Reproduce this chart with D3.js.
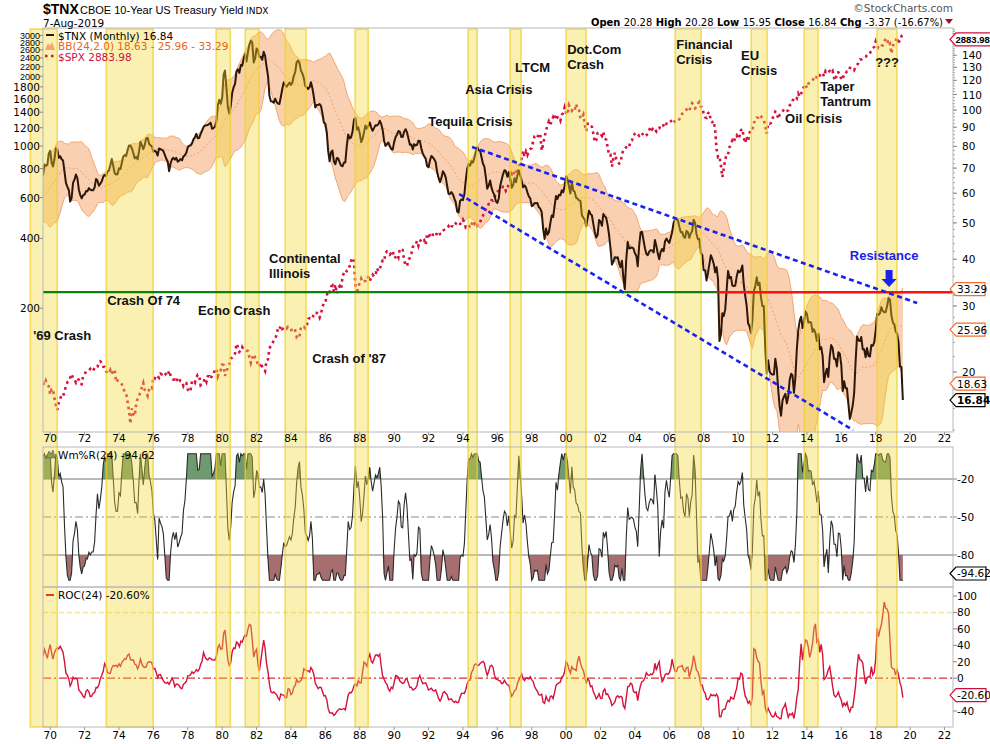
<!DOCTYPE html>
<html><head><meta charset="utf-8">
<script src="https://cdn.jsdelivr.net/npm/d3@7"></script>
<style>body{margin:0;background:#fff}svg{display:block}</style>
</head><body>
<svg id="c" width="990" height="744"></svg>
<script>
// ---------------- DATA ----------------
// Monthly 10-year Treasury yield (%), Jan 1967 .. Aug 2019 ($TNX = yield x 10)
const tnxYield = [
4.58,4.63,4.54,4.59,4.85,5.02,5.16,5.28,5.30,5.48,5.75,5.70, //1967
5.53,5.56,5.74,5.64,5.87,5.72,5.50,5.42,5.46,5.58,5.70,6.03, //1968
6.04,6.19,6.30,6.17,6.32,6.57,6.72,6.69,7.16,7.10,7.14,7.65, //1969
7.79,7.24,7.07,7.39,7.91,7.84,7.46,7.53,7.39,7.33,6.84,6.39, //1970
6.24,6.11,5.70,5.83,6.39,6.52,6.73,6.58,6.14,5.93,5.81,5.93, //1971
5.95,6.08,6.07,6.19,6.13,6.11,6.11,6.21,6.55,6.48,6.28,6.36, //1972
6.46,6.64,6.71,6.67,6.85,6.90,7.13,7.40,7.09,6.79,6.73,6.74, //1973
6.99,6.96,7.21,7.51,7.58,7.54,7.81,8.04,8.04,7.90,7.68,7.43, //1974
7.50,7.39,7.73,8.23,8.06,7.86,8.06,8.40,8.43,8.14,8.05,8.00, //1975
7.74,7.79,7.73,7.56,7.90,7.86,7.83,7.77,7.59,7.41,7.29,6.87, //1976
7.21,7.39,7.46,7.37,7.46,7.28,7.33,7.40,7.34,7.52,7.58,7.69, //1977
7.96,8.03,8.04,8.15,8.35,8.46,8.64,8.41,8.42,8.64,8.81,9.01, //1978
9.10,9.10,9.12,9.18,9.25,8.91,8.95,9.03,9.33,10.30,10.65,10.39, //1979
10.80,12.41,12.75,11.47,10.18,9.78,10.25,11.10,11.51,11.75,12.68,12.84, //1980
12.57,13.19,13.12,13.68,14.10,13.47,14.28,14.94,15.32,15.15,13.39,13.72, //1981
14.59,14.43,13.86,13.87,13.62,14.30,13.95,13.06,12.34,10.91,10.55,10.54, //1982
10.46,10.72,10.51,10.40,10.38,10.85,11.38,11.85,11.65,11.54,11.69,11.83, //1983
11.67,11.84,12.32,12.63,13.41,13.56,13.36,12.72,12.52,12.16,11.57,11.50, //1984
11.38,11.51,11.86,11.43,10.85,10.16,10.31,10.33,10.37,10.24,9.78,9.26, //1985
9.19,8.70,7.78,7.30,7.71,7.80,7.30,7.17,7.45,7.43,7.25,7.11, //1986
7.08,7.25,7.25,8.02,8.61,8.40,8.45,8.76,9.42,9.52,8.86,8.99, //1987
8.67,8.21,8.37,8.72,9.09,8.92,9.06,9.26,8.98,8.80,8.96,9.11, //1988
9.09,9.17,9.36,9.18,8.86,8.28,8.02,8.11,8.19,8.01,7.87,7.84, //1989
8.21,8.47,8.59,8.79,8.76,8.48,8.47,8.75,8.89,8.72,8.39,8.08, //1990
8.09,7.85,8.11,8.04,8.07,8.28,8.27,7.90,7.65,7.53,7.42,7.09, //1991
7.03,7.34,7.54,7.48,7.39,7.26,6.84,6.59,6.42,6.59,6.87,6.77, //1992
6.60,6.26,5.98,5.97,6.04,5.96,5.81,5.68,5.36,5.33,5.72,5.77, //1993
5.75,5.97,6.48,6.97,7.18,7.10,7.30,7.24,7.46,7.74,7.96,7.81, //1994
7.78,7.47,7.20,7.06,6.63,6.17,6.28,6.49,6.20,6.04,5.93,5.71, //1995
5.65,5.81,6.27,6.51,6.74,6.91,6.87,6.64,6.83,6.53,6.20,6.30, //1996
6.58,6.42,6.69,6.89,6.71,6.49,6.22,6.30,6.21,6.03,5.88,5.81, //1997
5.54,5.57,5.65,5.64,5.65,5.50,5.46,5.34,4.81,4.53,4.83,4.65, //1998
4.72,5.00,5.23,5.18,5.54,5.90,5.79,5.94,5.92,6.11,6.03,6.28, //1999
6.66,6.52,6.26,5.99,6.44,6.10,6.05,5.83,5.80,5.74,5.72,5.24, //2000
5.16,5.10,4.89,5.14,5.39,5.28,5.24,4.97,4.73,4.57,4.65,5.09, //2001
5.04,4.91,5.28,5.21,5.16,4.93,4.65,4.26,3.87,3.94,4.05,4.03, //2002
4.05,3.90,3.81,3.96,3.57,3.33,3.98,4.45,4.27,4.29,4.30,4.27, //2003
4.15,4.08,3.83,4.35,4.72,4.73,4.50,4.28,4.13,4.10,4.19,4.23, //2004
4.22,4.17,4.50,4.34,4.14,4.00,4.18,4.26,4.20,4.46,4.54,4.47, //2005
4.42,4.57,4.72,4.99,5.11,5.11,5.09,4.88,4.72,4.73,4.60,4.56, //2006
4.76,4.72,4.56,4.69,4.75,5.10,5.00,4.67,4.52,4.53,4.15,4.10, //2007
3.74,3.74,3.51,3.68,3.88,4.10,4.01,3.89,3.69,3.81,3.53,2.42, //2008
2.52,2.87,2.82,2.93,3.29,3.72,3.56,3.59,3.40,3.39,3.40,3.59, //2009
3.73,3.69,3.73,3.85,3.42,3.20,3.01,2.70,2.65,2.54,2.76,3.29, //2010
3.39,3.58,3.41,3.46,3.17,3.00,3.00,2.30,1.98,2.15,2.01,1.98, //2011
1.97,1.97,2.17,2.05,1.80,1.62,1.53,1.68,1.72,1.75,1.65,1.72, //2012
1.91,1.98,1.96,1.76,1.93,2.30,2.58,2.74,2.81,2.62,2.72,2.90, //2013
2.86,2.71,2.72,2.71,2.56,2.60,2.54,2.42,2.53,2.30,2.33,2.21, //2014
1.88,1.98,2.04,1.94,2.20,2.36,2.32,2.17,2.17,2.07,2.26,2.24, //2015
2.09,1.78,1.89,1.81,1.81,1.64,1.50,1.56,1.63,1.76,2.14,2.49, //2016
2.43,2.42,2.48,2.30,2.30,2.19,2.32,2.21,2.20,2.36,2.35,2.40, //2017
2.58,2.86,2.84,2.87,2.98,2.91,2.89,2.89,3.00,3.15,3.12,2.83, //2018
2.71,2.68,2.57,2.53,2.40,2.07,2.06,1.684                      //2019
];
// Monthly S&P 500 close, Jan 1967 .. Aug 2019
const spxClose = [
86.6,86.8,90.2,94.0,89.1,90.6,94.8,93.6,96.7,93.9,94.0,96.5, //1967
92.2,89.4,90.2,97.6,98.7,99.6,97.7,98.9,102.7,103.4,108.4,103.9, //1968
103.0,98.1,101.5,103.7,103.5,97.7,91.8,95.5,93.1,97.2,93.8,92.1, //1969
85.0,89.5,89.6,81.5,76.6,72.7,78.1,81.5,84.2,83.3,87.2,92.2, //1970
95.9,96.8,100.3,104.0,99.6,98.7,95.6,99.0,98.3,94.2,94.0,102.1, //1971
103.9,106.6,107.2,107.7,109.5,107.1,107.4,111.1,110.6,111.6,116.7,118.1, //1972
116.0,111.7,111.5,107.0,105.0,104.3,108.2,104.3,108.4,108.3,96.0,97.6, //1973
96.6,96.2,94.0,90.3,87.3,86.0,79.3,72.2,63.5,73.9,70.0,68.6, //1974
77.0,81.6,83.4,87.3,91.2,95.2,88.8,86.9,83.9,89.0,91.2,90.2, //1975
100.9,99.7,102.8,101.6,100.2,104.3,103.4,102.9,105.2,102.9,102.1,107.5, //1976
102.0,99.8,98.4,98.4,96.1,100.5,98.9,96.8,96.5,92.3,94.8,95.1, //1977
89.3,87.0,89.2,96.8,97.2,95.5,100.7,103.3,102.5,93.2,94.7,96.1, //1978
99.9,96.3,101.6,101.8,99.1,102.9,103.8,109.3,109.3,101.8,106.2,107.9, //1979
114.2,113.7,102.1,106.3,111.2,114.2,121.7,122.4,125.5,127.5,140.5,135.8, //1980
129.6,131.3,136.0,132.8,132.6,131.2,130.9,122.8,116.2,121.9,126.4,122.6, //1981
120.4,113.1,112.0,116.4,111.9,109.6,107.1,119.5,120.4,133.7,138.5,140.6, //1982
145.3,148.1,153.0,164.4,162.4,168.1,162.6,164.4,166.1,163.6,166.4,164.9, //1983
163.4,157.1,159.2,160.1,150.6,153.2,150.7,166.7,166.1,166.1,163.6,167.2, //1984
179.6,181.2,180.7,179.8,189.6,191.9,190.9,188.6,182.1,189.8,202.2,211.3, //1985
211.8,226.9,238.9,235.5,247.4,250.8,236.1,252.9,231.3,244.0,249.2,242.2, //1986
274.1,284.2,291.7,288.4,290.1,304.0,318.7,329.8,321.8,251.8,230.3,247.1, //1987
257.1,267.8,258.9,261.3,262.2,273.5,272.0,261.5,271.9,279.0,273.7,277.7, //1988
297.5,288.9,294.9,309.6,320.5,318.0,346.1,351.5,349.2,340.4,346.0,353.4, //1989
329.1,331.9,339.9,330.8,361.2,358.0,356.2,322.6,306.1,304.0,322.2,330.2, //1990
343.9,367.1,375.2,375.3,389.8,371.2,387.8,395.4,387.9,392.5,375.2,417.1, //1991
408.8,412.7,403.7,415.0,415.4,408.1,424.2,414.0,417.8,418.7,431.4,435.7, //1992
438.8,443.4,451.7,440.2,450.2,450.5,448.1,463.6,458.9,467.8,461.8,466.5, //1993
481.6,467.1,445.8,450.9,456.5,444.3,458.3,475.5,462.7,472.4,453.7,459.3, //1994
470.4,487.4,500.7,514.7,533.4,544.8,562.1,561.9,584.4,581.5,605.4,615.9, //1995
636.0,640.4,645.5,654.2,669.1,670.6,640.0,652.0,687.3,705.3,757.0,740.7, //1996
786.2,790.8,757.1,801.3,848.3,885.1,954.3,899.5,947.3,914.6,955.4,970.4, //1997
980.3,1049.3,1101.8,1111.8,1090.8,1133.8,1120.7,957.3,1017.0,1098.7,1163.6,1229.2, //1998
1279.6,1238.3,1286.4,1335.2,1301.8,1372.7,1328.7,1320.4,1282.7,1362.9,1388.9,1469.3, //1999
1394.5,1366.4,1498.6,1452.4,1420.6,1454.6,1430.8,1517.7,1436.5,1429.4,1315.0,1320.3, //2000
1366.0,1239.9,1160.3,1249.5,1255.8,1224.4,1211.2,1133.6,1040.9,1059.8,1139.5,1148.1, //2001
1130.2,1106.7,1147.4,1076.9,1067.1,989.8,911.6,916.1,815.3,885.8,936.3,879.8, //2002
855.7,841.2,848.2,916.9,963.6,974.5,990.3,1008.0,996.0,1050.7,1058.2,1111.9, //2003
1131.1,1144.9,1126.2,1107.3,1120.7,1140.8,1101.7,1104.2,1114.6,1130.2,1173.8,1211.9, //2004
1181.3,1203.6,1180.6,1156.9,1191.5,1191.3,1234.2,1220.3,1228.8,1207.0,1249.5,1248.3, //2005
1280.1,1280.7,1294.8,1310.6,1270.1,1270.2,1276.7,1303.8,1335.9,1377.9,1400.6,1418.3, //2006
1438.2,1406.8,1420.9,1482.4,1530.6,1503.4,1455.3,1474.0,1526.8,1549.4,1481.1,1468.4, //2007
1378.6,1330.6,1322.7,1385.6,1400.4,1280.0,1267.4,1282.8,1166.4,968.8,896.2,903.3, //2008
825.9,735.1,797.9,872.8,919.1,919.3,987.5,1020.6,1057.1,1036.2,1095.6,1115.1, //2009
1073.9,1104.5,1169.4,1186.7,1089.4,1030.7,1101.6,1049.3,1141.2,1183.3,1180.6,1257.6, //2010
1286.1,1327.2,1325.8,1363.6,1345.2,1320.6,1292.3,1218.9,1131.4,1253.3,1247.0,1257.6, //2011
1312.4,1365.7,1408.5,1397.9,1310.3,1362.2,1379.3,1406.6,1440.7,1412.2,1416.2,1426.2, //2012
1498.1,1514.7,1569.2,1597.6,1630.7,1606.3,1685.7,1633.0,1681.6,1756.5,1805.8,1848.4, //2013
1782.6,1859.5,1872.3,1884.0,1923.6,1960.2,1930.7,2003.4,1972.3,2018.1,2067.6,2058.9, //2014
1995.0,2104.5,2067.9,2085.5,2107.4,2063.1,2103.8,1972.2,1920.0,2079.4,2080.4,2043.9, //2015
1940.2,1932.2,2059.7,2065.3,2097.0,2098.9,2173.6,2171.0,2168.3,2126.2,2198.8,2238.8, //2016
2278.9,2363.6,2362.7,2384.2,2411.8,2423.4,2470.3,2471.7,2519.4,2575.3,2647.6,2673.6, //2017
2823.8,2713.8,2640.9,2648.1,2705.3,2718.4,2816.3,2901.5,2914.0,2711.7,2760.2,2506.9, //2018
2704.1,2784.5,2834.4,2945.8,2752.1,2941.8,2980.4,2883.98                               //2019
];
const firstMonth = [1967, 0];
// Crisis highlight bands (decimal years)
const crisisBands = [
  [1968.84,1970.41],[1973.26,1975.99],[1979.65,1980.47],[1981.34,1982.15],
  [1983.66,1984.88],[1987.73,1988.49],[1994.30,1994.83],[1996.74,1997.38],
  [2000.00,2001.16],[2006.34,2007.85],[2010.76,2011.69],[2013.84,2014.65],
  [2018.08,2019.24]
];
// Annotations: lines, decimal year, $TNX level of first baseline
const annotations = [
  [["'69 Crash"],1969.01,24.35],
  [["Crash Of 74"],1973.31,30.2],
  [["Echo Crash"],1978.60,28.4],
  [["Continental","Illinois"],1982.73,39.1],
  [["Crash of '87"],1985.23,21.15],
  [["Tequila Crisis"],1991.98,90.6],
  [["Asia Crisis"],1994.13,110.3],
  [["LTCM"],1997.03,126.3],
  [["Dot.Com","Crash"],2000.06,141.1],
  [["Financial","Crisis"],2006.40,145.4],
  [["EU","Crisis"],2010.17,135.9],
  [["Taper","Tantrum"],2014.77,112.4],
  [["Oil Crisis"],2012.73,92.3],
  [["???"],2017.97,130.2]
];
const resistanceLabel = ["Resistance", 2018.49, 39.8];
const resistanceArrow = [2018.78, 33.7];
// Trend lines [year, $TNX] -> [year, $TNX]
const trendLines = [
  [[1994.53,79.7],[2020.41,30.56]],
  [[1993.78,59.7],[2016.69,14.0]]
];
const supportLevel = 32.66;
const supportBreakYear = 2008.84;
// Tick labels
const xTickYears = d3.range(1970, 2023, 2);
const tnxTicks = [20,30,40,50,60,70,80,90,100,110,120,130,140,150,160];
const spxTicks = [200,400,600,800,1000,1200,1400,1600,1800,2000,2200,2400,2600,2800,3000];
const wrTicks = [-20,-50,-80];
const rocTicks = [100,80,60,40,20,0,-20,-40];
// Last values shown in legend / tags
const last = {tnx:16.84, bbLo:18.63, bbMid:25.96, bbUp:33.29, spx:2883.98, wr:-94.62, roc:-20.60};
const quote = [["Open","20.28"],["High","20.28"],["Low","15.95"],["Close","16.84"],["Chg","-3.37 (-16.67%)"]];

// ---------------- BUILD ----------------
const svg = d3.select("#c");
const L = 43, R = 953;
const P1 = [28, 432], P2 = [447, 587], P3 = [587, 727];
const t0 = new Date(firstMonth[0], firstMonth[1], 1);
const yd = y => { const yr = Math.floor(y); const a = new Date(yr,0,1), b = new Date(yr+1,0,1); return new Date(+a + (y-yr)*(b-a)); };
const viewStart = new Date(1969,7,1), viewEnd = new Date(2022,6,1);
const x = d3.scaleTime().domain([viewStart, viewEnd]).range([L, R]);
const yT = d3.scaleLog().domain([13.84,165.5]).range([P1[1],P1[0]]);
const yS = d3.scaleLog().domain([58.5,3230]).range([P1[1],P1[0]]);
const yW = d3.scaleLinear().domain([0,-100]).range([453.7,580.3]);
const yR = d3.scaleLinear().domain([100,-40]).range([596,711]);

const rows = tnxYield.map((v,i)=>({date:d3.timeMonth.offset(t0,i), tnx:v*10, spx:spxClose[i]}));
rows.forEach((r,i)=>{
  if(i>=23){
    const w = rows.slice(i-23,i+1).map(d=>d.tnx);
    const m = d3.mean(w), sd = Math.sqrt(d3.mean(w,v=>(v-m)*(v-m)));
    r.mid = m; r.up = m+2*sd; r.lo = Math.max(1, m-2*sd);
    const hh = d3.max(w), ll = d3.min(w);
    r.wr = hh===ll ? -50 : (hh-r.tnx)/(hh-ll)*-100;
  }
  if(i>=24) r.roc = (r.tnx/rows[i-24].tnx-1)*100;
});
const vis = rows.filter(r=>r.date>=viewStart);

const defs = svg.append("defs");
[["c1",P1],["c2",P2],["c3",P3]].forEach(([id,p])=>
  defs.append("clipPath").attr("id",id).append("rect").attr("x",L).attr("y",p[0]).attr("width",R-L).attr("height",p[1]-p[0]));

// ---- main panel
const g1 = svg.append("g").attr("clip-path","url(#c1)");
g1.append("path").datum(vis).attr("fill","#f9d0b2")
  .attr("d", d3.area().x(d=>x(d.date)).y0(d=>yT(d.lo)).y1(d=>yT(d.up)));
["up","lo"].forEach(k=>g1.append("path").datum(vis).attr("fill","none").attr("stroke","#f5a56e").attr("stroke-width",1)
  .attr("d", d3.line().x(d=>x(d.date)).y(d=>yT(d[k]))));
g1.append("path").datum(vis).attr("fill","none").attr("stroke","#f4a068").attr("stroke-width",1).attr("stroke-dasharray","2,2")
  .attr("d", d3.line().x(d=>x(d.date)).y(d=>yT(d.mid)));
g1.append("path").datum(vis).attr("fill","none").attr("stroke","#d6123e").attr("stroke-width",2.6).attr("stroke-dasharray","2.6,3.6")
  .attr("d", d3.line().x(d=>x(d.date)).y(d=>yS(d.spx)));
g1.append("path").datum(vis).attr("fill","none").attr("stroke","#2c1709").attr("stroke-width",2).attr("stroke-linejoin","round")
  .attr("d", d3.line().x(d=>x(d.date)).y(d=>yT(d.tnx)));

// ---- %R panel
const g2 = svg.append("g").attr("clip-path","url(#c2)");
const vw = vis.filter(d=>d.wr!==undefined);
g2.append("path").datum(vw).attr("fill","#6f9a6f")
  .attr("d", d3.area().x(d=>x(d.date)).y0(yW(-20)).y1(d=>yW(Math.max(d.wr,-20))));
g2.append("path").datum(vw).attr("fill","#a66e6e")
  .attr("d", d3.area().x(d=>x(d.date)).y0(yW(-80)).y1(d=>yW(Math.min(d.wr,-80))));
[-20,-80].forEach(v=>g2.append("line").attr("x1",L).attr("x2",R).attr("y1",yW(v)).attr("y2",yW(v)).attr("stroke","#777").attr("stroke-width",1.2));
g2.append("line").attr("x1",L).attr("x2",R).attr("y1",yW(-50)).attr("y2",yW(-50)).attr("stroke","#888").attr("stroke-width",1).attr("stroke-dasharray","8,3,2,3");
g2.append("path").datum(vw).attr("fill","none").attr("stroke","#2a2a2a").attr("stroke-width",1.1)
  .attr("d", d3.line().x(d=>x(d.date)).y(d=>yW(d.wr)));

// ---- ROC panel
const g3 = svg.append("g").attr("clip-path","url(#c3)");
g3.append("line").attr("x1",L).attr("x2",R).attr("y1",yR(80)).attr("y2",yR(80)).attr("stroke","#f6e39a").attr("stroke-width",1.6).attr("stroke-dasharray","5,3");
g3.append("line").attr("x1",L).attr("x2",R).attr("y1",yR(0)).attr("y2",yR(0)).attr("stroke","#e02a2a").attr("stroke-width",1.2).attr("stroke-dasharray","8,3,2,3");
g3.append("path").datum(vis.filter(d=>d.roc!==undefined)).attr("fill","none").attr("stroke","#d4123c").attr("stroke-width",1.4)
  .attr("d", d3.line().x(d=>x(d.date)).y(d=>yR(d.roc)));

// ---- crisis bands (overlay)
svg.append("g").selectAll("rect").data(crisisBands).join("rect")
  .attr("x",d=>x(yd(d[0]))).attr("width",d=>x(yd(d[1]))-x(yd(d[0])))
  .attr("y",29).attr("height",698)
  .attr("fill","rgba(240,216,50,0.38)").attr("stroke","rgba(242,206,40,0.7)").attr("stroke-width",1.6);

// ---- annotation lines above bands
const g1b = svg.append("g").attr("clip-path","url(#c1)");
g1b.append("line").attr("x1",x(viewStart)).attr("x2",x(yd(supportBreakYear))).attr("y1",yT(supportLevel)).attr("y2",yT(supportLevel))
  .attr("stroke","#0b820b").attr("stroke-width",2.2);
g1b.append("line").attr("x1",x(yd(supportBreakYear))).attr("x2",x(viewEnd)).attr("y1",yT(supportLevel)).attr("y2",yT(supportLevel))
  .attr("stroke","#ff1111").attr("stroke-width",2.4);
trendLines.forEach(([a,b])=>g1b.append("line")
  .attr("x1",x(yd(a[0]))).attr("y1",yT(a[1])).attr("x2",x(yd(b[0]))).attr("y2",yT(b[1]))
  .attr("stroke","#1a22ee").attr("stroke-width",2.6).attr("stroke-dasharray","5,3.5"));
{
  const ax = x(yd(resistanceArrow[0])), ay = yT(resistanceArrow[1]);
  svg.append("path").attr("transform",`translate(${ax},${ay})`)
    .attr("d","M-3.5,-17L3.5,-17L3.5,-8L7.5,-8L0,0L-7.5,-8L-3.5,-8Z").attr("fill","#1a22ee");
}

// ---- frames
[P1,P2,P3].forEach(p=>svg.append("rect").attr("x",L).attr("y",p[0]).attr("width",R-L).attr("height",p[1]-p[0])
  .attr("fill","none").attr("stroke","#b8b8b8").attr("stroke-width",1));

const font = "'DejaVu Sans', Verdana, sans-serif";
const sans = "'Liberation Sans', Arial, Helvetica, sans-serif";
const txt = (t,xx,yy,o={}) => svg.append("text").attr("x",xx).attr("y",yy).text(t)
  .attr("font-family",o.ff||font).attr("font-size",o.fs||11).attr("fill",o.fill||"#000")
  .attr("font-weight",o.fw||"normal").attr("text-anchor",o.anchor||"start");

// value tag positions (tick labels hidden behind them are skipped)
const tagYs = [yS(last.spx),yT(last.bbUp),yT(last.bbMid),yT(last.bbLo),yT(last.tnx),yW(last.wr),yR(last.roc)];
const free = yy => tagYs.every(t=>Math.abs(t-yy)>8);

// x axis labels & ticks
xTickYears.forEach(yr=>{
  const xx = x(new Date(yr,0,1));
  const lab = String(yr%100).padStart(2,"0");
  txt(lab,xx,442,{anchor:"middle",fs:10.5});
  txt(lab,xx,739,{anchor:"middle",fs:10.5});
  [P1[1],P3[1]].forEach(yy=>svg.append("line").attr("x1",xx).attr("x2",xx).attr("y1",yy).attr("y2",yy+3).attr("stroke","#999"));
});
// right TNX axis
d3.range(14,165,2).forEach(v=>svg.append("line").attr("x1",R).attr("x2",R+2).attr("y1",yT(v)).attr("y2",yT(v)).attr("stroke","#aaa"));
tnxTicks.forEach(v=>{
  svg.append("line").attr("x1",R).attr("x2",R+4).attr("y1",yT(v)).attr("y2",yT(v)).attr("stroke","#888");
  if(free(yT(v))) txt(v,962,yT(v)+4,{fs:10.5});
});
// left SPX axis (crowded log ticks, as in the original)
spxTicks.forEach(v=>{
  svg.append("line").attr("x1",L-3).attr("x2",L).attr("y1",yS(v)).attr("y2",yS(v)).attr("stroke","#888");
  txt(v,40,yS(v)+(v>=2000?3.5:4),{fs:v>=2000?9:10.5,anchor:"end",ff:v>=2000?sans:font});
});
wrTicks.forEach(v=>{ svg.append("line").attr("x1",R).attr("x2",R+4).attr("y1",yW(v)).attr("y2",yW(v)).attr("stroke","#888"); if(free(yW(v))) txt(v,957,yW(v)+4,{fs:10.5}); });
rocTicks.forEach(v=>{ svg.append("line").attr("x1",R).attr("x2",R+4).attr("y1",yR(v)).attr("y2",yR(v)).attr("stroke","#888"); if(free(yR(v))) txt(v,957,yR(v)+4,{fs:10.5}); });

// value tags
const tag = (val,yy,stroke,bold,w,o={}) => {
  svg.append("path").attr("d",`M950,${yy}L956,${yy-6.5}L${950+w},${yy-6.5}L${950+w},${yy+6.5}L956,${yy+6.5}Z`)
    .attr("fill","#fff").attr("stroke",stroke).attr("stroke-width",1.2);
  txt(val,o.x||957,yy+4,{fs:o.fs||10.5,fw:bold?"bold":"normal",ff:o.ff});
};
tag(last.spx.toFixed(2),yS(last.spx),"#cc1040",true,45,{fs:9.5,ff:sans,x:955.5});
tag(last.bbUp.toFixed(2),yT(last.bbUp),"#f07030",false,35);
tag(last.bbMid.toFixed(2),yT(last.bbMid),"#f07030",false,35);
tag(last.bbLo.toFixed(2),yT(last.bbLo),"#f07030",false,35);
tag(last.tnx.toFixed(2),yT(last.tnx),"#000",true,35);
tag(last.wr.toFixed(2),yW(last.wr),"#000",false,36);
tag(last.roc.toFixed(2),yR(last.roc),"#cc1040",false,36);

// legends
svg.append("line").attr("x1",46).attr("x2",54).attr("y1",35).attr("y2",35).attr("stroke","#2c1709").attr("stroke-width",2);
txt(`$TNX (Monthly) ${last.tnx}`,58,39.5,{fs:10.5});
svg.append("path").attr("d","M45,50L48,43L50,46L52,42L55,50Z").attr("fill","#f5a56e");
txt(`BB(24,2.0) ${last.bbLo} - ${last.bbMid} - ${last.bbUp}`,58,50,{fs:10.5,fill:"#e8641e"});
svg.append("line").attr("x1",45).attr("x2",55).attr("y1",56).attr("y2",56).attr("stroke","#d6123e").attr("stroke-width",2.4).attr("stroke-dasharray","2.5,3.5");
txt(`$SPX ${last.spx}`,58,60.5,{fs:10.5,fill:"#cc1040"});
svg.append("path").attr("d","M46,458L49,451L51,454L53,450L55,458Z").attr("fill","#8a9a50").attr("stroke","#555").attr("stroke-width",0.6);
txt(`Wm%R(24) ${last.wr}`,58,458.5,{fs:10.5});
svg.append("line").attr("x1",46).attr("x2",54).attr("y1",595).attr("y2",595).attr("stroke","#e23a1a").attr("stroke-width",2);
txt(`ROC(24) ${last.roc.toFixed(2)}%`,58,599,{fs:10.5});

// header
txt("$TNX",43,14,{ff:sans,fs:14,fw:"bold"});
txt("CBOE 10-Year US Treasury Yield",80,14,{ff:sans,fs:11});
txt("INDX",246,14,{fs:9});
txt("7-Aug-2019",43,26.5,{fs:10.5});
txt("\u00A9StockCharts.com",953,12,{fs:10.5,fill:"#555",anchor:"end"});
{
  const q = svg.append("text").attr("x",591).attr("y",25.5).attr("font-family",font).attr("font-size",10.5)
    .attr("textLength",352).attr("lengthAdjust","spacingAndGlyphs");
  quote.forEach(([k,v],i)=>{
    q.append("tspan").attr("font-weight","bold").text((i?" ":"")+k+" ");
    q.append("tspan").text(v);
  });
  svg.append("path").attr("d","M945,19L953,19L949,24Z").attr("fill","#a01020");
}

// annotations
annotations.forEach(([lines,yr,lv])=>{
  const t = svg.append("text").attr("font-family",sans).attr("font-size",13).attr("font-weight","bold").attr("fill","#111");
  lines.forEach((s,i)=>t.append("tspan").attr("x",x(yd(yr))).attr("y",yT(lv)+i*15).text(s));
});
txt(resistanceLabel[0], x(yd(resistanceLabel[1])), yT(resistanceLabel[2]), {ff:sans,fs:13,fw:"bold",fill:"#1a22ee",anchor:"middle"});
</script>
</body></html>
